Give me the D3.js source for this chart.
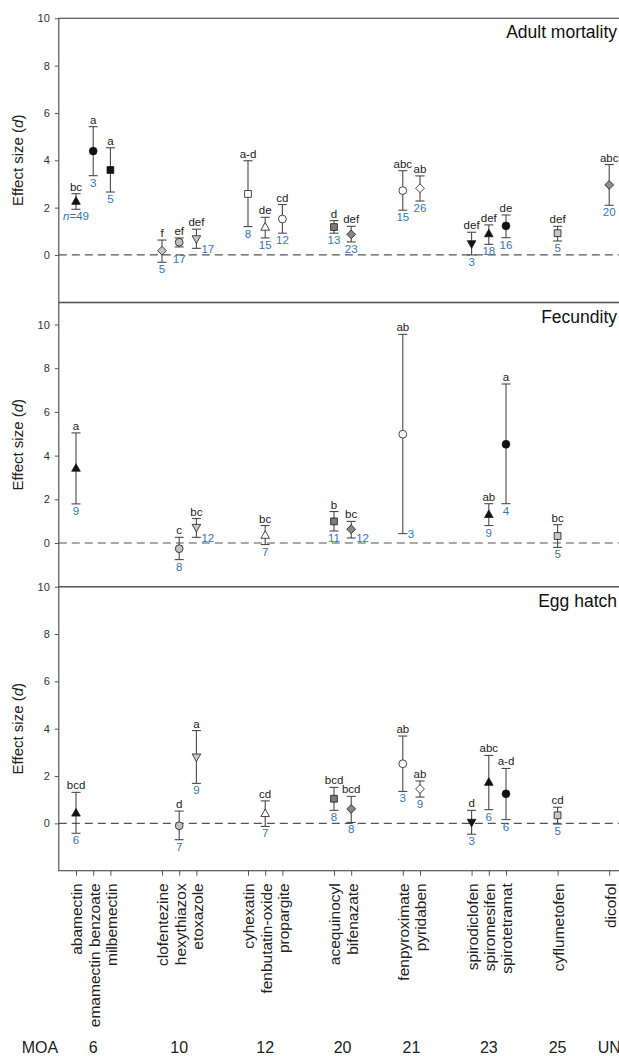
<!DOCTYPE html>
<html>
<head>
<meta charset="utf-8">
<script src="https://cdn.jsdelivr.net/npm/d3@7"></script>
<style>
  body { margin: 0; background: #fff; }
  text { font-family: "Liberation Sans", Arial, sans-serif; }
</style>
</head>
<body>
<div id="viz"></div>
<script>

    // compounds in x order, grouped by mode of action
    var compounds = ['abamectin', 'emamectin benzoate', 'milbemectin',
        'clofentezine', 'hexythiazox', 'etoxazole',
        'cyhexatin', 'fenbutatin-oxide', 'propargite',
        'acequinocyl', 'bifenazate',
        'fenpyroximate', 'pyridaben',
        'spirodiclofen', 'spiromesifen', 'spirotetramat',
        'cyflumetofen',
        'dicofol'];
    var moaLabels = ['6', '10', '12', '20', '21', '23', '25', 'UN'];
    var moaSizes = [3, 3, 3, 2, 2, 3, 1, 1];
    var yTicks = [0, 2, 4, 6, 8, 10];

    // Adult mortality
    var adultNames = ['abamectin', 'emamectin benzoate', 'milbemectin', 'clofentezine', 'hexythiazox', 'etoxazole',
        'cyhexatin', 'fenbutatin-oxide', 'propargite', 'acequinocyl', 'bifenazate', 'fenpyroximate', 'pyridaben',
        'spirodiclofen', 'spiromesifen', 'spirotetramat', 'cyflumetofen', 'dicofol'];
    var adultMean = [2.29, 4.39, 3.59, 0.18, 0.54, 0.66, 2.58, 1.20, 1.52, 1.18, 0.87, 2.72, 2.82, 0.45, 0.92, 1.23, 0.92, 2.96];
    var adultLo = [1.93, 3.35, 2.66, -0.31, 0.34, 0.28, 1.20, 0.72, 0.92, 0.92, 0.55, 1.89, 2.28, 0.00, 0.45, 0.73, 0.59, 2.10];
    var adultHi = [2.59, 5.42, 4.53, 0.63, 0.72, 1.09, 3.98, 1.59, 2.13, 1.45, 1.21, 3.56, 3.34, 0.96, 1.27, 1.69, 1.21, 3.82];
    var adultLetters = ['bc', 'a', 'a', 'f', 'ef', 'def', 'a-d', 'de', 'cd', 'd', 'def', 'abc', 'ab', 'def', 'def', 'de', 'def', 'abc'];
    var adultN = [49, 3, 5, 5, 17, 17, 8, 15, 12, 13, 23, 15, 26, 3, 18, 16, 5, 20];

    // Fecundity
    var fecNames = ['abamectin', 'hexythiazox', 'etoxazole', 'fenbutatin-oxide', 'acequinocyl', 'bifenazate',
        'fenpyroximate', 'spiromesifen', 'spirotetramat', 'cyflumetofen'];
    var fecMean = [3.45, -0.26, 0.69, 0.38, 0.99, 0.63, 4.98, 1.33, 4.52, 0.32];
    var fecLo = [1.79, -0.76, 0.26, -0.07, 0.55, 0.23, 0.43, 0.80, 1.80, -0.20];
    var fecHi = [5.04, 0.26, 1.12, 0.80, 1.44, 0.99, 9.55, 1.80, 7.28, 0.84];
    var fecLetters = ['a', 'c', 'bc', 'bc', 'b', 'bc', 'ab', 'ab', 'a', 'bc'];
    var fecN = [9, 8, 12, 7, 11, 12, 3, 9, 4, 5];

    // Egg hatch
    var eggNames = ['abamectin', 'hexythiazox', 'etoxazole', 'fenbutatin-oxide', 'acequinocyl', 'bifenazate',
        'fenpyroximate', 'pyridaben', 'spirodiclofen', 'spiromesifen', 'spirotetramat', 'cyflumetofen'];
    var eggMean = [0.46, -0.10, 2.78, 0.44, 1.04, 0.61, 2.52, 1.45, 0.02, 1.76, 1.25, 0.34];
    var eggLo = [-0.42, -0.69, 1.69, -0.13, 0.55, 0.04, 1.35, 1.11, -0.46, 0.58, 0.16, -0.03];
    var eggHi = [1.31, 0.52, 3.92, 0.95, 1.52, 1.14, 3.69, 1.79, 0.55, 2.87, 2.32, 0.68];
    var eggLetters = ['bcd', 'd', 'a', 'cd', 'bcd', 'bcd', 'ab', 'ab', 'd', 'abc', 'a-d', 'cd'];
    var eggN = [6, 7, 9, 7, 8, 8, 3, 9, 3, 6, 6, 5];

    // marker look per compound
    var markerShape = {
        'abamectin': 'up', 'emamectin benzoate': 'circle', 'milbemectin': 'square',
        'clofentezine': 'diamond', 'hexythiazox': 'circle', 'etoxazole': 'down',
        'cyhexatin': 'square', 'fenbutatin-oxide': 'up', 'propargite': 'circle',
        'acequinocyl': 'square', 'bifenazate': 'diamond',
        'fenpyroximate': 'circle', 'pyridaben': 'diamond',
        'spirodiclofen': 'down', 'spiromesifen': 'up', 'spirotetramat': 'circle',
        'cyflumetofen': 'square', 'dicofol': 'diamond'
    };
    var markerFill = {
        'abamectin': '#111', 'emamectin benzoate': '#111', 'milbemectin': '#111',
        'clofentezine': '#c4c4c4', 'hexythiazox': '#c0c0c0', 'etoxazole': '#c8c8c8',
        'cyhexatin': '#fff', 'fenbutatin-oxide': '#fff', 'propargite': '#fff',
        'acequinocyl': '#7c7c7c', 'bifenazate': '#888',
        'fenpyroximate': '#fff', 'pyridaben': '#fff',
        'spirodiclofen': '#111', 'spiromesifen': '#111', 'spirotetramat': '#111',
        'cyflumetofen': '#c8c8c8', 'dicofol': '#8c8c8c'
    };

    //Width and height
    var width = 619;
    var height = 1056;

    var margin = { top: 18.3, left: 58.8 }
    var unit = 17.2

    // x position of each compound: groups separated by two empty slots
    var xIndex = {}
    var moaCenter = []
    var slot = 1
    var k = 0
    moaSizes.forEach(function (size, gi) {
        var first = slot
        for (var j = 0; j < size; j++) {
            xIndex[compounds[k]] = slot
            slot++
            k++
        }
        moaCenter.push((first + slot - 1) / 2)
        slot += 2
    })

    var xScale = d3.scaleLinear()
        .domain([0, 34])
        .range([margin.left, margin.left + 34 * unit])

    var panels = [
        { title: 'Adult mortality', top: 18.3, bottom: 302.3, domain: [-2, 10],
          names: adultNames, mean: adultMean, lo: adultLo, hi: adultHi, letters: adultLetters, n: adultN,
          nPlace: { 'hexythiazox': 'low', 'etoxazole': 'right' } },
        { title: 'Fecundity', top: 302.7, bottom: 586.7, domain: [-2, 11],
          names: fecNames, mean: fecMean, lo: fecLo, hi: fecHi, letters: fecLetters, n: fecN,
          nPlace: { 'etoxazole': 'right', 'bifenazate': 'right', 'fenpyroximate': 'right' } },
        { title: 'Egg hatch', top: 586.7, bottom: 870.7, domain: [-2, 10],
          names: eggNames, mean: eggMean, lo: eggLo, hi: eggHi, letters: eggLetters, n: eggN,
          nPlace: {} }
    ]

    var svg = d3.select("#viz")
        .append("svg")
        .attr("width", width)
        .attr("height", height)
        .style("display", "block");

    svg.append('rect')
        .attr('width', width)
        .attr('height', height)
        .attr('fill', '#fff');

    function shapePath(shape) {
        if (shape === 'circle') return d3.symbol(d3.symbolCircle, Math.PI * 3.9 * 3.9)();
        if (shape === 'square') return 'M-3.4,-3.4H3.4V3.4H-3.4Z';
        if (shape === 'diamond') return 'M0,-4.4L4.4,0L0,4.4L-4.4,0Z';
        if (shape === 'up') return 'M0,-4L4.3,3.6H-4.3Z';
        return 'M0,4L4.3,-3.6H-4.3Z';
    }

    var blue = '#2f77bd'
    var ink = '#222'
    var lineCol = '#4a4a4a'

    panels.forEach(function (p) {
        var yScale = d3.scaleLinear()
            .domain(p.domain)
            .range([p.bottom, p.top])

        var data = p.names.map(function (name, i) {
            return { name: name, mean: p.mean[i], lo: p.lo[i], hi: p.hi[i], letter: p.letters[i], n: p.n[i] }
        })

        var g = svg.append('g')

        // frame
        g.append('rect')
            .attr('x', margin.left)
            .attr('y', p.top)
            .attr('width', width + 40 - margin.left)
            .attr('height', p.bottom - p.top)
            .attr('fill', 'none')
            .attr('stroke', '#555')
            .attr('stroke-width', 1.2)

        // zero line
        g.append('line')
            .attr('x1', margin.left)
            .attr('x2', width)
            .attr('y1', yScale(0))
            .attr('y2', yScale(0))
            .attr('stroke', '#555')
            .attr('stroke-width', 1.2)
            .attr('stroke-dasharray', '8,5')

        var yAxis = d3.axisLeft(yScale)
            .tickValues(yTicks)
            .tickSize(4)
            .tickSizeOuter(0)
            .tickPadding(5)

        var ya = g.append('g')
            .attr('transform', 'translate(' + margin.left + ',0)')
            .call(yAxis)
        ya.select('.domain').remove()
        ya.selectAll('line').attr('stroke', '#555')
        ya.selectAll('text')
            .attr('fill', '#333')
            .style('font-size', '11px')
            .style('font-family', '"Liberation Sans", Arial, sans-serif')

        // y title
        var yt = g.append('text')
            .attr('transform', 'translate(23,' + (p.top + p.bottom) / 2 + ') rotate(-90)')
            .attr('text-anchor', 'middle')
            .attr('fill', ink)
            .style('font-size', '15px')
        yt.append('tspan').text('Effect size (')
        yt.append('tspan').style('font-style', 'italic').text('d')
        yt.append('tspan').text(')')

        // panel title
        g.append('text')
            .attr('x', 617)
            .attr('y', p.top + 20)
            .attr('text-anchor', 'end')
            .attr('fill', '#111')
            .style('font-size', '17.5px')
            .text(p.title)

        // error bars
        var bars = g.selectAll('.bar')
            .data(data)
            .enter()
            .append('g')
            .attr('class', 'bar')
            .attr('transform', (d) => 'translate(' + xScale(xIndex[d.name]) + ',0)')

        bars.append('line')
            .attr('x1', 0).attr('x2', 0)
            .attr('y1', (d) => yScale(d.lo))
            .attr('y2', (d) => yScale(d.hi))
            .attr('stroke', lineCol)
            .attr('stroke-width', 1.1)

        bars.append('line')
            .attr('x1', -4.5).attr('x2', 4.5)
            .attr('y1', (d) => yScale(d.hi))
            .attr('y2', (d) => yScale(d.hi))
            .attr('stroke', lineCol)
            .attr('stroke-width', 1.1)

        bars.append('line')
            .attr('x1', -4.5).attr('x2', 4.5)
            .attr('y1', (d) => yScale(d.lo))
            .attr('y2', (d) => yScale(d.lo))
            .attr('stroke', lineCol)
            .attr('stroke-width', 1.1)

        bars.append('path')
            .attr('transform', (d) => 'translate(0,' + yScale(d.mean) + ')')
            .attr('d', (d) => shapePath(markerShape[d.name]))
            .attr('fill', (d) => markerFill[d.name])
            .attr('stroke', '#1a1a1a')
            .attr('stroke-width', 0.8)

        // significance letters
        bars.append('text')
            .attr('y', (d) => yScale(d.hi) - 3)
            .attr('text-anchor', 'middle')
            .attr('fill', ink)
            .style('font-size', '11.5px')
            .text((d) => d.letter)

        // sample sizes
        var nt = bars.append('text')
            .attr('x', (d) => p.nPlace[d.name] === 'right' ? 5 : 0)
            .attr('y', function (d) {
                var place = p.nPlace[d.name]
                if (place === 'right') return yScale(d.lo) + 4.5
                if (place === 'low') return yScale(d.lo) + 16
                return yScale(d.lo) + 11
            })
            .attr('text-anchor', (d) => p.nPlace[d.name] === 'right' ? 'start' : 'middle')
            .attr('fill', blue)
            .style('font-size', '11.5px')

        nt.filter((d) => d.n === 49)
            .append('tspan')
            .style('font-style', 'italic')
            .text('n')
        nt.append('tspan')
            .text((d) => d.n === 49 ? '=' + d.n : d.n)
    })

    // compound axis under the last panel
    var last = panels[panels.length - 1]
    var xAxis = d3.axisBottom(xScale)
        .tickValues(compounds.map((c) => xIndex[c]))
        .tickFormat((v) => compounds.find((c) => xIndex[c] === v))
        .tickSize(5)
        .tickSizeOuter(0)

    var xa = svg.append('g')
        .attr('transform', 'translate(0,' + last.bottom + ')')
        .call(xAxis)
    xa.select('.domain').remove()
    xa.selectAll('line').attr('stroke', '#555')
    xa.selectAll('text')
        .attr('transform', 'rotate(-90)')
        .attr('text-anchor', 'end')
        .attr('x', -12.6)
        .attr('y', 0)
        .attr('dy', '0.38em')
        .attr('fill', ink)
        .style('font-size', '15.5px')
        .style('font-family', '"Liberation Sans", Arial, sans-serif')

    // MOA row
    svg.append('text')
        .attr('x', 21.7)
        .attr('y', 1053)
        .attr('fill', ink)
        .style('font-size', '16px')
        .text('MOA')

    svg.selectAll('.moa')
        .data(moaLabels)
        .enter()
        .append('text')
        .attr('class', 'moa')
        .attr('x', (d, i) => xScale(moaCenter[i]))
        .attr('y', 1053)
        .attr('text-anchor', 'middle')
        .attr('fill', ink)
        .style('font-size', '16px')
        .text((d) => d)

</script>
</body>
</html>
